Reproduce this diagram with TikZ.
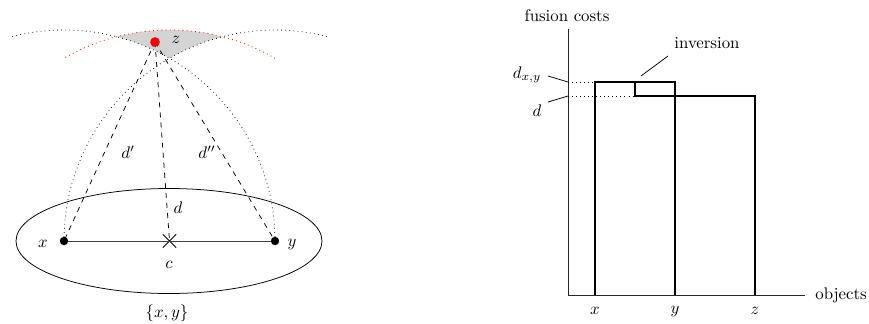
\documentclass[tikz,border=0pt]{standalone}
\usetikzlibrary{shapes.misc}
\begin{document}
\begin{tikzpicture}[x=0.595pt,y=-0.595pt,
  dot/.style={circle,fill=black,inner sep=0pt,minimum size=5pt},
  reddot/.style={circle,fill=red,inner sep=0pt,minimum size=5.6pt},
  lbl/.style={inner sep=0pt},
  bar/.style={line width=0.7pt},
  ax/.style={line width=0.5pt,black!85},
  thinline/.style={line width=0.45pt},
  region/.style={fill=black!17},
  crossmark/.style={cross out,draw,thinline,minimum size=7.5pt,inner sep=0pt}]
\useasboundingbox (0,0) rectangle (869,323);
% ---------------- left part ----------------
\coordinate (xc) at (64,241);
\coordinate (yc) at (275,241);
\coordinate (cc) at (169.5,241);
% shaded region
\fill[region] ([shift={(-104.48:211)}]cc) arc[start angle=-104.48,end angle=-75.52,radius=211]
  arc[start angle=-104.48,end angle=-120,radius=211]
  arc[start angle=-60,end angle=-75.52,radius=211] -- cycle;
% circles around x and y
\draw[dotted,line width=0.45pt] (yc) arc[start angle=0,end angle=-104.6,radius=211];
\draw[dotted,line width=0.45pt] (xc) arc[start angle=180,end angle=284.6,radius=211];
\draw[red,dotted,line width=0.5pt] ([shift={(-60:211)}]cc) arc[start angle=-60,end angle=-120,radius=211];
% set ellipse
\draw[thinline] (169,241) ellipse[x radius=153,y radius=52.5];
% nodes
\node[crossmark] (c) at (cc) {};
\node[reddot] (z) at (155,42) {};
\draw[thinline,black!75] (xc) -- (c.center) -- (yc);
\draw[dashed,thinline] (z.center) -- (xc);
\draw[dashed,thinline] (z.center) -- (c.center);
\draw[dashed,thinline] (z.center) -- (yc);
\node[dot] (x) at (xc) {};
\node[dot] (y) at (yc) {};
\node[reddot] at (z.center) {};
% labels
\node[lbl] (zl) at (176,40) {$z$};
\node[lbl] (d1) at (128,152) {$d'$};
\node[lbl] (d2) at (207,152) {$d''$};
\node[lbl] (dl) at (178,208) {$d$};
\node[lbl] (xl) at (43,244) {$x$};
\node[lbl] (yl) at (292,245) {$y$};
\node[lbl] (cl) at (169,265) {$c$};
\node[lbl] (set) at (167,313) {$\{x,y\}$};
% ---------------- right part ----------------
\coordinate (O) at (568,295);
\coordinate (ytop) at (568,29);
\coordinate (xend) at (805,295);
\draw[ax] (ytop) -- (O) -- (xend);
\node[lbl] (fc) at (567,16) {fusion costs};
\node[lbl,anchor=west] (obj) at (815,295) {objects};
\coordinate (hx) at (568,82);
\coordinate (hd) at (568,96);
\draw[dotted] (hx) -- (595,82);
\draw[dotted] (hd) -- (635,96);
\draw[bar] (595,295) -- (595,82) -- (675,82) -- (675,295);
\draw[bar] (635,82) -- (635,96) -- (755,96) -- (755,295);
\node[lbl] (ldxy) at (527,75) {$d_{x,y}$};
\node[lbl] (ld) at (537,111) {$d$};
\draw[thinline] (548,76) -- (hx);
\draw[thinline] (548,102) -- (hd);
\node[lbl] (inv) at (707,43) {inversion};
\draw[thinline] (668,56) -- (641,76);
\node[lbl] (tx) at (595,311) {$x$};
\node[lbl] (ty) at (675,312) {$y$};
\node[lbl] (tz) at (755,311) {$z$};
\end{tikzpicture}
\end{document}
